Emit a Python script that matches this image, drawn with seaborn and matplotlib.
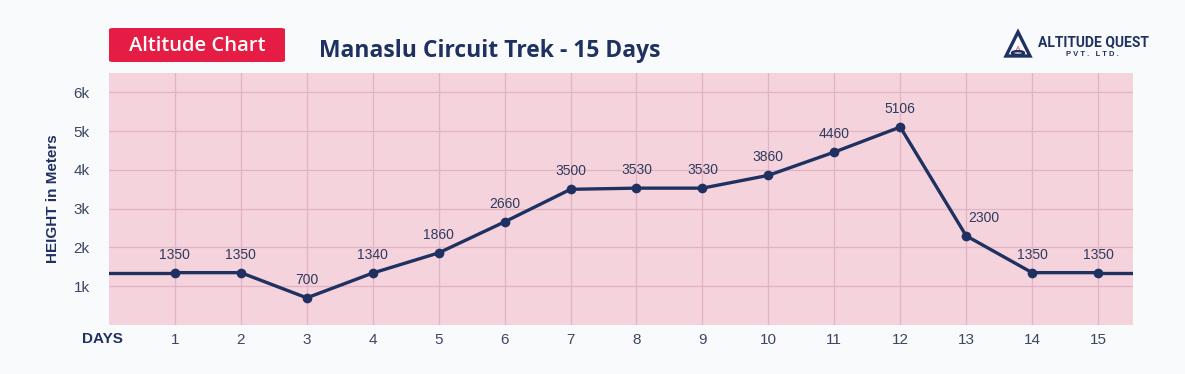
import numpy as np
import pandas as pd
import seaborn as sns
import matplotlib.pyplot as plt
from matplotlib.patches import FancyBboxPatch, Polygon, Circle

# data
days = list(range(1, 16))
altitude = [1350, 1350, 700, 1340, 1860, 2660, 3500, 3530, 3530, 3860, 4460, 5106, 2300, 1350, 1350]
ytick_vals = [1000, 2000, 3000, 4000, 5000, 6000]
ytick_labels = ['1k', '2k', '3k', '4k', '5k', '6k']

df = pd.DataFrame({'day': days, 'altitude': altitude})

navy = '#1e3160'
pink = '#f5d3dd'
grid_c = '#e2b3c2'
red = '#e51c43'
tick_c = '#3b4662'

sns.set_theme(style='white')
plt.rcParams['font.family'] = ['Liberation Sans', 'DejaVu Sans']

fig = plt.figure(figsize=(11.85, 3.74), dpi=100, facecolor='#f9fafb')
ax = fig.add_axes([109 / 1185, 1 - 325 / 374, 1024 / 1185, 252 / 374])
ax.set_facecolor(pink)

xmin, xmax = 0, 15.53
ax.set_xlim(xmin, xmax)
ax.set_ylim(0, 6500)

# line extends to the plot edges at the first/last altitude
ax.plot([xmin, days[0]], [altitude[0], altitude[0]], color=navy, lw=2.4, zorder=3)
ax.plot([days[-1], xmax], [altitude[-1], altitude[-1]], color=navy, lw=2.4, zorder=3)
sns.lineplot(data=df, x='day', y='altitude', ax=ax, color=navy, lw=2.4,
             marker='o', markersize=7, markeredgewidth=0, zorder=4)

for i, (d, a) in enumerate(zip(days, altitude)):
    dx = 13 if i > 0 and altitude[i - 1] - a > 1500 else 0  # steep drop: shift label right
    ax.annotate(str(a), (d, a), xytext=(dx, 8), textcoords='offset points',
                ha='center', va='bottom', fontsize=10, color='#2e3a5c')

ax.set_xticks(days)
ax.set_xticklabels([str(d) for d in days], fontsize=11, color=tick_c)
ax.set_yticks(ytick_vals)
ax.set_yticklabels(ytick_labels, fontsize=11, color=tick_c)
ax.tick_params(axis='y', length=0, pad=14)
ax.tick_params(axis='x', length=0, pad=6)
ax.grid(True, color=grid_c, lw=0.9)
for s in ax.spines.values():
    s.set_visible(False)
ax.set_xlabel('')
ax.set_ylabel('HEIGHT in Meters', fontsize=11, fontweight='bold', color=navy, labelpad=10)

fig.text(102 / 1185, 1 - 339 / 374, 'DAYS', ha='center', va='center',
         fontsize=11, fontweight='bold', color=navy)

# header badge and title
badge = FancyBboxPatch((109 / 1185, 1 - 62 / 374), 176 / 1185, 34 / 374,
                       boxstyle='round,pad=0,rounding_size=0.004',
                       transform=fig.transFigure, facecolor=red, edgecolor='none')
fig.patches.append(badge)
fig.text(197 / 1185, 1 - 46 / 374, 'Altitude Chart', ha='center', va='center',
         fontsize=14.5, fontweight='semibold', color='white', family=['Open Sans', 'DejaVu Sans'])
fig.text(490 / 1185, 1 - 51 / 374, 'Manaslu Circuit Trek - 15 Days', ha='center', va='center',
         fontsize=16.5, fontweight='bold', color=navy, family=['Open Sans', 'DejaVu Sans'])

# logo
tri = Polygon([(1018 / 1185, 1 - 32 / 374), (1006 / 1185, 1 - 56 / 374), (1030 / 1185, 1 - 56 / 374)],
              closed=True, transform=fig.transFigure, facecolor='none', edgecolor=navy, lw=2.4)
fig.patches.append(tri)
fig.patches.append(Circle((1018 / 1185, 1 - 53 / 374), 0.005, transform=fig.transFigure,
                          facecolor='#f9fafb', edgecolor=navy, lw=1.8, zorder=3))
fig.text(1018 / 1185, 1 - 49 / 374, 'A', ha='center', va='center', fontsize=4.5, color=red)
fig.text(1038 / 1185, 1 - 42 / 374, 'ALTITUDE QUEST', ha='left', va='center',
         fontsize=10, fontweight='bold', color=navy, family=['Roboto', 'DejaVu Sans'],
         stretch='condensed')
fig.text(1092 / 1185, 1 - 55 / 374, 'P V T .   L T D .', ha='center', va='center',
         fontsize=5.5, fontweight='bold', color=navy)

fig.savefig('out.png', dpi=100, facecolor=fig.get_facecolor())
